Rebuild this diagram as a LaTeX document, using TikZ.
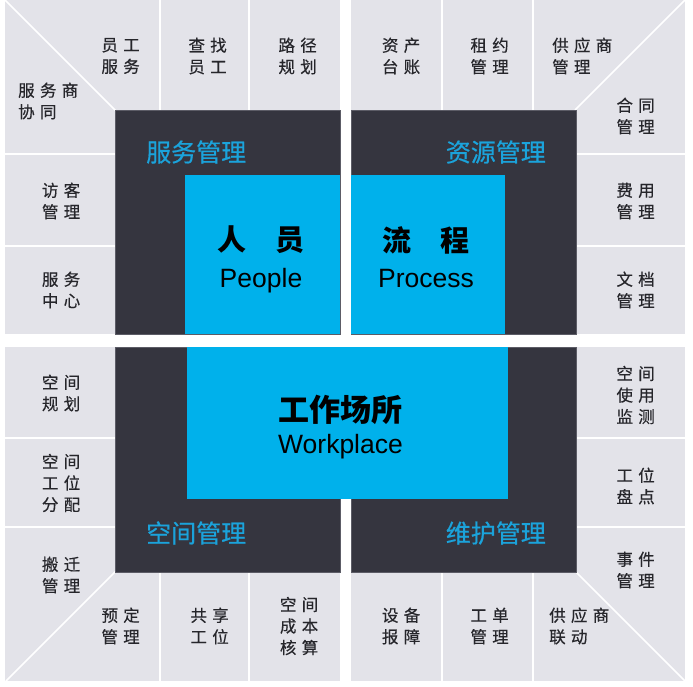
\documentclass[tikz,border=0pt]{standalone}
\usepackage{fontspec}
\usepackage{xcolor}
\setmainfont{Liberation Sans}
\newfontfamily\cjk[LetterSpace=32, FakeBold=0.4]{Noto Sans CJK SC}
\newfontfamily\cjkplain{Noto Sans CJK SC}
\newfontfamily\cjkarea[FakeBold=0.6]{Noto Sans CJK SC}
\definecolor{tilegray}{HTML}{E3E3E9}
\definecolor{darkbox}{HTML}{35353F}
\definecolor{darkedge}{HTML}{5C5C66}
\definecolor{corebox}{HTML}{00B1EB}
\definecolor{areablue}{HTML}{1BA3DB}
\definecolor{itemtext}{HTML}{26262B}

\tikzset{
  itembase/.style={align=center, text=itemtext, font=\cjk\fontsize{16.5}{21.5}\selectfont, inner sep=0pt},
  item/.style={itembase, xshift=2.6pt},
  itemleft/.style={itembase, align=left, anchor=west},
  area/.style={text=areablue, font=\cjkarea\fontsize{25}{25}\selectfont, inner sep=0pt},
  core/.style={font=\cjkplain\bfseries\fontsize{29}{29}\selectfont, inner sep=0pt},
  coreen/.style={font=\fontsize{26.5}{26.5}\selectfont, inner sep=0pt, anchor=base},
  gap/.style={white, line width=2.3pt},
  slant/.style={white, line width=1.5pt},
}

\begin{document}
\begin{tikzpicture}[x=1pt, y=-1pt]
            \fill[white] (0,0) rectangle (693,686);
            \useasboundingbox (0,0) rectangle (693,686);

            \fill[tilegray] (5,0) rectangle (340,334);
            \fill[tilegray] (351,0) rectangle (685,334);
            \fill[tilegray] (5,347) rectangle (340,681);
            \fill[tilegray] (351,347) rectangle (685,681);

            \draw[gap] (160,0) -- (160,110);
            \draw[gap] (249,0) -- (249,110);
            \draw[gap] (5,154) -- (115,154);
            \draw[gap] (5,246) -- (115,246);
            \draw[slant] (5,0) -- (116,111);

            \draw[gap] (442,0) -- (442,110);
            \draw[gap] (533,0) -- (533,110);
            \draw[gap] (576,154) -- (685,154);
            \draw[gap] (576,246) -- (685,246);
            \draw[slant] (685,0) -- (575,110);

            \draw[gap] (5,438) -- (115,438);
            \draw[gap] (5,527) -- (115,527);
            \draw[gap] (160,572) -- (160,681);
            \draw[gap] (249,572) -- (249,681);
            \draw[slant] (116,571) -- (6,681);

            \draw[gap] (576,438) -- (685,438);
            \draw[gap] (576,527) -- (685,527);
            \draw[gap] (442,572) -- (442,681);
            \draw[gap] (533,572) -- (533,681);
            \draw[slant] (575,571) -- (685,681);

            \filldraw[fill=darkbox, draw=darkedge, line width=0.8pt] (115.5,110) rectangle (340,334);
            \filldraw[fill=darkbox, draw=darkedge, line width=0.8pt] (351,110) rectangle (576,334);
            \filldraw[fill=darkbox, draw=darkedge, line width=0.8pt] (115.5,347) rectangle (340,572);
            \filldraw[fill=darkbox, draw=darkedge, line width=0.8pt] (351,347) rectangle (576,572);

            \fill[corebox] (185,175) rectangle (340,333.5);
            \fill[corebox] (351,175) rectangle (505,333.5);
            \fill[corebox] (187,347) rectangle (508,499);

            \node[itemleft] (svcpartner) at (18,101) {服务商\\协同};
            \node[item] (staffsvc) at (118,56) {员工\\服务};
            \node[item] (findstaff) at (205,56) {查找\\员工};
            \node[item] (route) at (295,56) {路径\\规划};
            \node[item] (visitor) at (58.5,201) {访客\\管理};
            \node[item] (svccenter) at (58.5,290) {服务\\中心};

            \node[item] (assets) at (398.5,56) {资产\\台账};
            \node[item] (lease) at (487,56) {租约\\管理};
            \node[itemleft] (vendor) at (552,56) {供应商\\管理};
            \node[item] (contract) at (633,116) {合同\\管理};
            \node[item] (expense) at (633,201) {费用\\管理};
            \node[item] (docs) at (633,290) {文档\\管理};

            \node[item] (spaceplan) at (58.5,393) {空间\\规划};
            \node[item] (seatassign) at (58.5,483) {空间\\工位\\分配};
            \node[item] (move) at (58.5,575) {搬迁\\管理};
            \node[item] (booking) at (118,626) {预定\\管理};
            \node[item] (sharedesk) at (207,626) {共享\\工位};
            \node[item] (spacecost) at (296.5,626) {空间\\成本\\核算};

            \node[item] (usage) at (633,395) {空间\\使用\\监测};
            \node[item] (deskcount) at (633,486) {工位\\盘点};
            \node[item] (incident) at (633,570) {事件\\管理};
            \node[item] (repair) at (398.5,626) {设备\\报障};
            \node[item] (workorder) at (487,626) {工单\\管理};
            \node[itemleft] (vendorlink) at (549,626) {供应商\\联动};

            \node[area, anchor=west] (svcmgmt) at (146,152) {服务管理};
            \node[area, anchor=east] (resmgmt) at (546,152) {资源管理};
            \node[area, anchor=west] (spacemgmt) at (146,533) {空间管理};
            \node[area, anchor=east] (maintmgmt) at (546,533) {维护管理};

            \node[core] (people) at (261,240) {人　员};
            \node[coreen] (peopleen) at (261,287) {People};
            \node[core] (process) at (426,240) {流　程};
            \node[coreen] (processen) at (426,287) {Process};
            \node[core, font=\cjkplain\bfseries\fontsize{31}{31}\selectfont] (workplace) at (340.5,409.5) {工作场所};
            \node[coreen] (workplaceen) at (340.5,453) {Workplace};
        \end{tikzpicture}
\end{document}
